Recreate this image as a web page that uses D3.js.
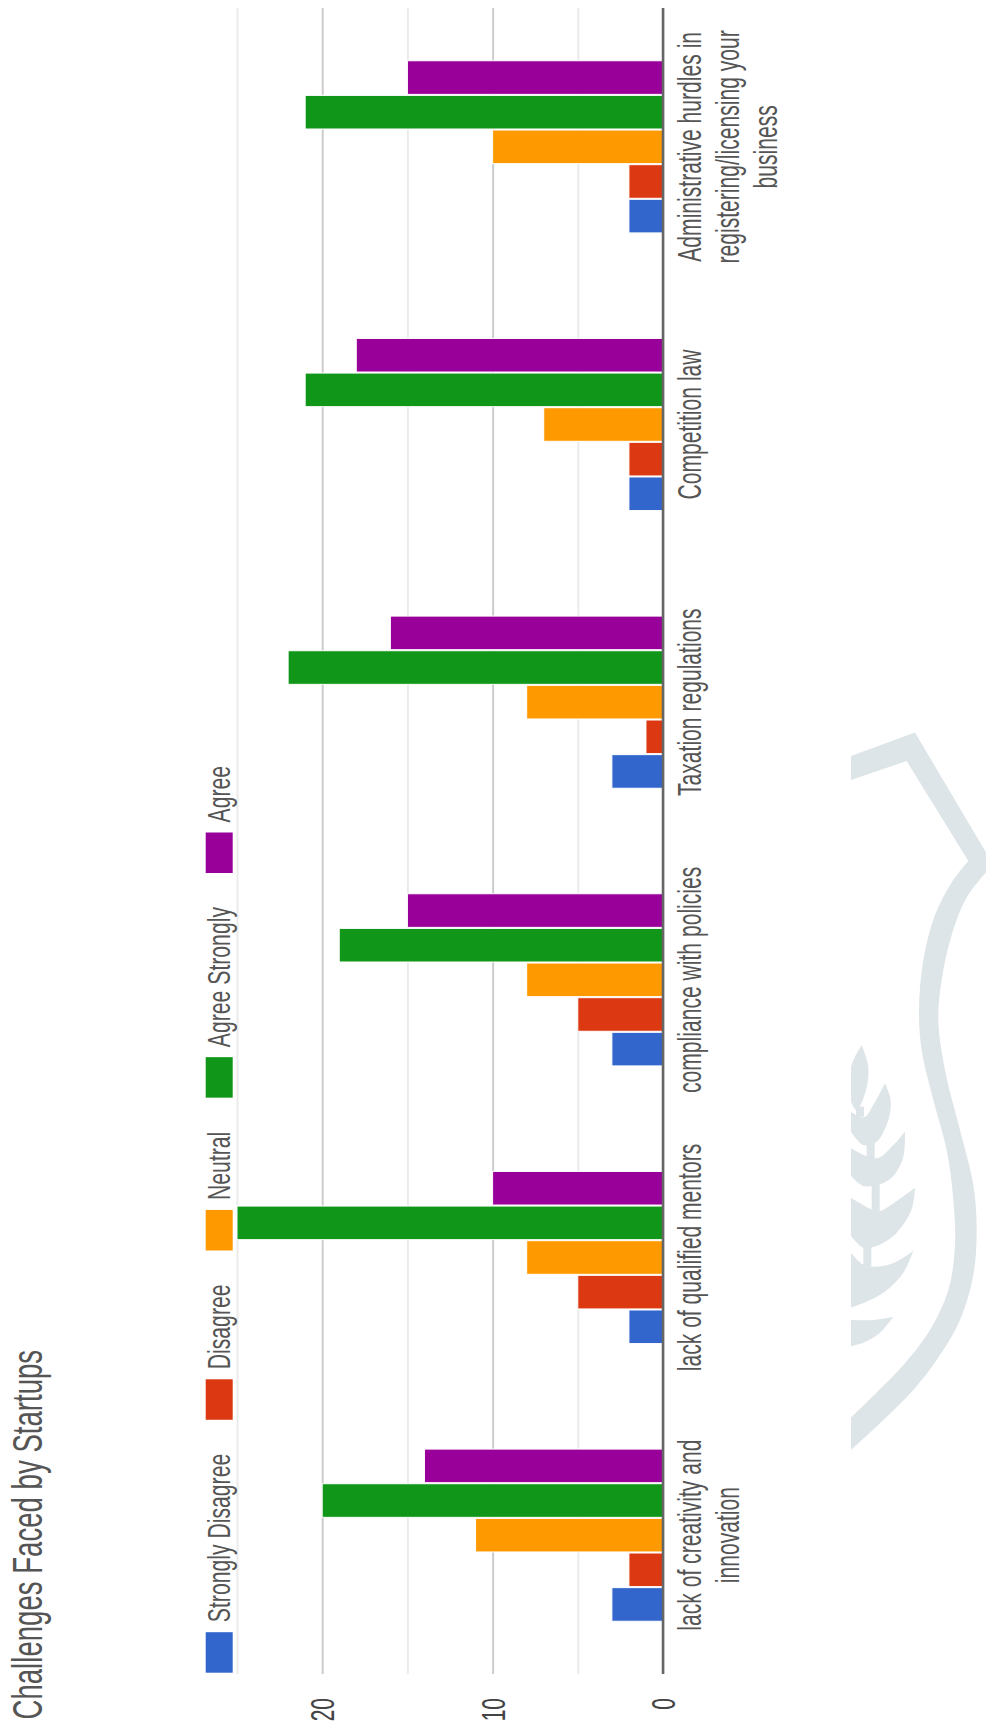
<!DOCTYPE html>
<html>
<head>
<meta charset="utf-8">
<script src="https://cdn.jsdelivr.net/npm/d3@7"></script>
<style>
html,body{margin:0;padding:0;background:#fff;overflow:hidden}
text{font-family:"Liberation Sans",Arial,sans-serif}
</style>
</head>
<body>
<svg id="chart" width="986" height="1727"></svg>
<script>
// Survey results: challenges faced by startups, grouped by response level.
const categories = [
  "lack of creativity and innovation",
  "lack of qualified mentors",
  "compliance with policies",
  "Taxation regulations",
  "Competition law",
  "Administrative hurdles in registering/licensing your business"
];
const seriesNames = ["Strongly Disagree", "Disagree", "Neutral", "Agree Strongly", "Agree"];
const seriesColors = ["#3366cc", "#dc3912", "#ff9900", "#109618", "#990099"];
const stronglyDisagree = [3, 2, 3, 3, 2, 2];
const disagree = [2, 5, 5, 1, 2, 2];
const neutral = [11, 8, 8, 8, 7, 10];
const agreeStrongly = [20, 25, 19, 22, 21, 21];
const agree = [14, 10, 15, 16, 18, 15];
const seriesValues = [stronglyDisagree, disagree, neutral, agreeStrongly, agree];
const gridValues = [0, 5, 10, 15, 20, 25];
const labelledTicks = [0, 10, 20];
const titleText = "Challenges Faced by Startups";

// The chart is laid out upright and turned a quarter-turn counter-clockwise.
// Text is tall and narrow, so it is stretched across its line direction.
const pageW = 986, pageH = 1727;
const textColor = "#555";

const svg = d3.select("#chart");

// Faint crest behind the right-hand side of the page, cut off on its left.
const crestFill = "#dde5e8";
const crest = svg.append("g").attr("fill", crestFill);
const cx = p => 820 + p[0] / 3, cy = p => 700 + p[1] / 2;
const straight = d3.line().x(cx).y(cy);
const curved = d3.line().x(cx).y(cy).curve(d3.curveCatmullRom);
const crestInner = [[445,322],[395,365],[345,430],[310,520],[297,620],[305,700],[340,800],[380,900],[400,1000],[405,1090],[385,1180],[330,1260],[250,1330],[170,1385],[93,1435]];
const crestOuter = [[93,1500],[190,1440],[280,1380],[360,1310],[420,1240],[460,1150],[470,1060],[460,970],[420,860],[375,740],[355,640],[365,560],[395,470],[440,395],[498,345]];
crest.append("path").attr("d",
  straight([[93,160],[260,122],[445,322]]) +
  curved(crestInner).replace(/^M/, "L") +
  curved(crestOuter).replace(/^M/, "L") +
  straight([[498,345],[498,305],[285,65],[93,112]]).replace(/^M[^L]*/, "") + "Z");

// Wheat ear: each leaf runs from the cut edge out to a pointed tip and back.
const leaf = d3.line().x(p => 840 + p[0] / 3).y(p => p[1] / 3).curve(d3.curveCatmullRom);
const f1 = 1030 * 3, f2 = 1176 * 3;
const leafSides = [
  [[[33,110+f1],[45,80+f1],[65,45+f1]], [[65,45+f1],[85,110+f1],[78,180+f1],[50,240+f1],[33,215+f1]]],
  [[[33,245+f1],[72,262+f1],[100,225+f1],[135,160+f1]], [[135,160+f1],[152,210+f1],[145,270+f1],[110,335+f1],[70,345+f1],[33,305+f1]]],
  [[[33,355+f1],[110,385+f1],[160,345+f1],[195,305+f1]], [[195,305+f1],[190,380+f1],[160,0+f2],[120,25+f2],[70,30+f2],[33,0+f2]]],
  [[[33,65+f2],[95,100+f2],[120,105+f2],[170,75+f2],[225,35+f2]], [[225,35+f2],[215,100+f2],[170,170+f2],[110,210+f2],[70,215+f2],[33,180+f2]]],
  [[[33,230+f2],[75,268+f2],[150,265+f2],[220,225+f2]], [[220,225+f2],[190,290+f2],[130,350+f2],[60,385+f2],[33,395+f2]]],
  [[[33,432+f2],[100,432+f2],[160,422+f2]], [[160,422+f2],[120,470+f2],[70,500+f2],[33,510+f2]]]
];
leafSides.forEach(([out, back]) =>
  crest.append("path").attr("d", leaf(out) + leaf(back).replace(/^M/, "L") + "Z"));
const stems = [
  [[60,230+f1],[60,260+f1]],
  [[92,335+f1],[92,385+f1]],
  [[107,25+f2],[107,105+f2]],
  [[82,205+f2],[82,270+f2]]
];
stems.forEach(s => crest.append("path").attr("d", leaf.curve(d3.curveLinear)(s))
  .attr("stroke", crestFill).attr("stroke-width", 8));
leaf.curve(d3.curveCatmullRom);

const chart = svg.append("g").attr("transform", `translate(0,${pageH}) rotate(-90)`);

const plotLeft = 53, plotRight = 1719, plotTop = 237, plotBottom = 663;

const y = d3.scaleLinear().domain([0, 25]).range([plotBottom, plotTop]);
const x0 = d3.scaleBand().domain(d3.range(categories.length)).range([plotLeft, plotRight]);
const x1 = d3.scaleBand().domain(d3.range(seriesNames.length))
  .range([0, x0.bandwidth() * 0.62]).paddingInner(0.03);
const groupOffset = (x0.bandwidth() - x1.range()[1]) / 2;

function stretchedText(parent, str, px, py, opts) {
  return parent.append("g")
    .attr("transform", `translate(${px},${py}) scale(1,${opts.stretch})`)
    .append("text")
    .attr("font-size", opts.size)
    .attr("fill", opts.fill || textColor)
    .attr("text-anchor", opts.anchor || "start")
    .text(str);
}

// Gridlines: every 5 units, with the labelled ones darker.
const gridAxis = d3.axisLeft(y).tickValues(gridValues)
  .tickSize(-(plotRight - plotLeft)).tickFormat("");
const grid = chart.append("g").attr("transform", `translate(${plotLeft},0)`).call(gridAxis);
grid.select(".domain").remove();
grid.selectAll(".tick line")
  .attr("stroke", d => labelledTicks.includes(d) ? "#cccccc" : "#ebebeb")
  .attr("stroke-width", 2);

// Value labels sit left of the plot, right-aligned.
labelledTicks.forEach(v => stretchedText(chart, String(v), 29, y(v) + 12,
  { anchor: "end", fill: "#444", size: 21, stretch: 1.55 }));

// Bars, with a thin pale edge
const groups = chart.selectAll(".group").data(categories).join("g")
  .attr("class", "group")
  .attr("transform", (d, i) => `translate(${x0(i) + groupOffset},0)`);
groups.selectAll("rect")
  .data((d, i) => seriesValues.map((s, k) => ({ k, v: s[i] })))
  .join("rect")
  .attr("x", d => x1(d.k))
  .attr("width", x1.bandwidth())
  .attr("y", d => y(d.v))
  .attr("height", d => y(0) - y(d.v))
  .attr("fill", d => seriesColors[d.k])
  .attr("stroke", "#fff").attr("stroke-width", 1);

// Baseline
chart.append("line")
  .attr("x1", plotLeft).attr("x2", plotRight)
  .attr("y1", y(0)).attr("y2", y(0))
  .attr("stroke", "#666").attr("stroke-width", 2.5);

// Category labels, wrapped to the width of one band
const labelSize = 21.1, maxLabelWidth = 252, lineGap = 38;
categories.forEach((name, i) => {
  const c = x0(i) + x0.bandwidth() / 2;
  let lines = [], cur = "";
  const probe = chart.append("text").attr("font-size", labelSize).attr("opacity", 0);
  name.split(" ").forEach(w => {
    const t = cur ? cur + " " + w : w;
    probe.text(t);
    if (probe.node().getComputedTextLength() > maxLabelWidth && cur) { lines.push(cur); cur = w; }
    else cur = t;
  });
  lines.push(cur);
  probe.remove();
  lines.forEach((l, n) => stretchedText(chart, l, c, 701 + n * lineGap,
    { anchor: "middle", size: labelSize, stretch: 1.55 }));
});

// Legend flows along the top of the chart
const swatchW = 40.5, swatchGap = 10, itemGap = 34;
let lx = 54.3;
seriesNames.forEach((name, k) => {
  chart.append("rect").attr("x", lx).attr("y", 205.7)
    .attr("width", swatchW).attr("height", 27).attr("fill", seriesColors[k]);
  const t = stretchedText(chart, name, lx + swatchW + swatchGap, 230, { size: 21.2, stretch: 1.45 });
  lx += swatchW + swatchGap + t.node().getComputedTextLength() + itemGap;
});

// Title
stretchedText(chart, titleText, 7.5, 42, { size: 27.6, stretch: 1.52 });
</script>
</body>
</html>
